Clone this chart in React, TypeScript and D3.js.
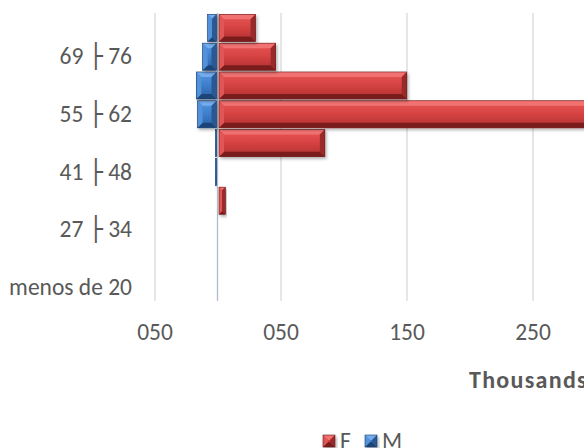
import * as d3 from "d3";

// age groups, bottom to top
const CATEGORIES = [
  "menos de 20",
  "20 ├ 27",
  "27 ├ 34",
  "34 ├ 41",
  "41 ├ 48",
  "48 ├ 55",
  "55 ├ 62",
  "62 ├ 69",
  "69 ├ 76",
  "76 ├ 83",
];
// thousands
const F_VALUES = [0, 0, 0, 5, 0, 84, 310, 149, 45, 29];
const M_VALUES = [0, 0, 0, 0, 1, 1, 15, 16, 11, 7];

const X_TICKS = [-50, 50, 150, 250];
const X_TICK_LABELS = ["050", "050", "150", "250"];

const W = 584;
const H = 448;
const FONT = "Carlito, Calibri, Lato, 'DejaVu Sans', sans-serif";
const TEXT = "#595959";
const FS = 23.5;

const RED = { top: "#f27272", bottom: "#7a1e1e", left: "#e05656", right: "#992929", c1: "#d84444", c2: "#b02f2f", stroke: "#6a1a1a" };
const BLUE = { top: "#74acee", bottom: "#1f4577", left: "#5292da", right: "#295893", c1: "#3f80cd", c2: "#2b5fa0", stroke: "#1d3f6c" };

type Pal = typeof RED;

function BevelBar({ x0, y0, w, h, pal, id }: { x0: number; y0: number; w: number; h: number; pal: Pal; id: string }) {
  if (w <= 0) return null;
  const b = Math.min(5, w / 2, h / 2);
  const x1 = x0 + w;
  const y1 = y0 + h;
  const pts = (a: number[][]) => a.map((p) => p.join(",")).join(" ");
  return (
    <g filter="url(#shadow)">
      <rect x={x0} y={y0} width={w} height={h} fill={`url(#${id})`} />
      <polygon points={pts([[x0, y0], [x1, y0], [x1 - b, y0 + b], [x0 + b, y0 + b]])} fill={pal.top} />
      <polygon points={pts([[x0, y1], [x1, y1], [x1 - b, y1 - b], [x0 + b, y1 - b]])} fill={pal.bottom} />
      <polygon points={pts([[x0, y0], [x0 + b, y0 + b], [x0 + b, y1 - b], [x0, y1]])} fill={pal.left} />
      <polygon points={pts([[x1, y0], [x1 - b, y0 + b], [x1 - b, y1 - b], [x1, y1]])} fill={pal.right} />
      <rect x={x0} y={y0} width={w} height={h} fill="none" stroke={pal.stroke} strokeWidth={0.6} />
    </g>
  );
}

export default function App() {
  const x = d3.scaleLinear().domain([-50, 350]).range([155, 659]);
  const y = d3
    .scaleBand<string>()
    .domain(CATEGORIES.slice().reverse())
    .range([13.5, 301.5])
    .paddingInner(0.06)
    .paddingOuter(0.03);
  const zero = x(0);

  return (
    <svg
      width={W}
      height={H}
      style={{ position: "absolute", left: 0, top: 0, background: "#fff" }}
      fontFamily={FONT}
    >
      <defs>
        <linearGradient id="gF" x1="0" y1="0" x2="0" y2="1">
          <stop offset="0" stopColor="#e85858" />
          <stop offset="0.45" stopColor={RED.c1} />
          <stop offset="1" stopColor={RED.c2} />
        </linearGradient>
        <linearGradient id="gM" x1="0" y1="0" x2="0" y2="1">
          <stop offset="0" stopColor="#5596e0" />
          <stop offset="0.45" stopColor={BLUE.c1} />
          <stop offset="1" stopColor={BLUE.c2} />
        </linearGradient>
        <filter id="shadow" x="-10%" y="-20%" width="130%" height="160%">
          <feDropShadow dx="1.5" dy="2" stdDeviation="1.5" floodColor="#000" floodOpacity="0.3" />
        </filter>
      </defs>

      {/* gridlines */}
      {X_TICKS.map((t) => (
        <line key={t} x1={x(t)} x2={x(t)} y1={13} y2={301} stroke="#d9d9d9" strokeWidth={1.3} />
      ))}
      {/* category axis */}
      <line x1={zero - 0.5} x2={zero - 0.5} y1={13} y2={301} stroke="#b0bccd" strokeWidth={1.3} />

      {/* bars */}
      {CATEGORIES.map((c, i) => {
        const by = y(c)!;
        const bh = y.bandwidth();
        const fw = x(F_VALUES[i]) - zero;
        const mw = zero - x(-M_VALUES[i]);
        return (
          <g key={c}>
            <BevelBar x0={zero - 1.5 - mw} y0={by} w={mw} h={bh} pal={BLUE} id="gM" />
            <BevelBar x0={zero + 1} y0={by} w={fw} h={bh} pal={RED} id="gF" />
          </g>
        );
      })}

      {/* category labels (every other one shown) */}
      {CATEGORIES.map((c, i) =>
        i % 2 === 0 ? (
          <text
            key={c}
            x={132}
            y={y(c)! + y.bandwidth() / 2}
            dy="0.33em"
            textAnchor="end"
            fontSize={FS}
            fill={TEXT}
          >
            {c}
          </text>
        ) : null
      )}

      {/* value labels */}
      {X_TICKS.map((t, i) => (
        <text key={t} x={x(t)} y={340} textAnchor="middle" fontSize={FS} fill={TEXT}>
          {X_TICK_LABELS[i]}
        </text>
      ))}

      <text x={469} y={388} fontSize={24} fontWeight="bold" letterSpacing={1.3} fill={TEXT}>
        Thousands
      </text>

      {/* legend */}
      <g>
        <BevelBar x0={323} y0={435} w={12} h={12} pal={RED} id="gF" />
        <text x={340} y={449} fontSize={FS} fill={TEXT}>F</text>
        <BevelBar x0={365} y0={435} w={12} h={12} pal={BLUE} id="gM" />
        <text x={382} y={449} fontSize={FS} fill={TEXT}>M</text>
      </g>
    </svg>
  );
}
